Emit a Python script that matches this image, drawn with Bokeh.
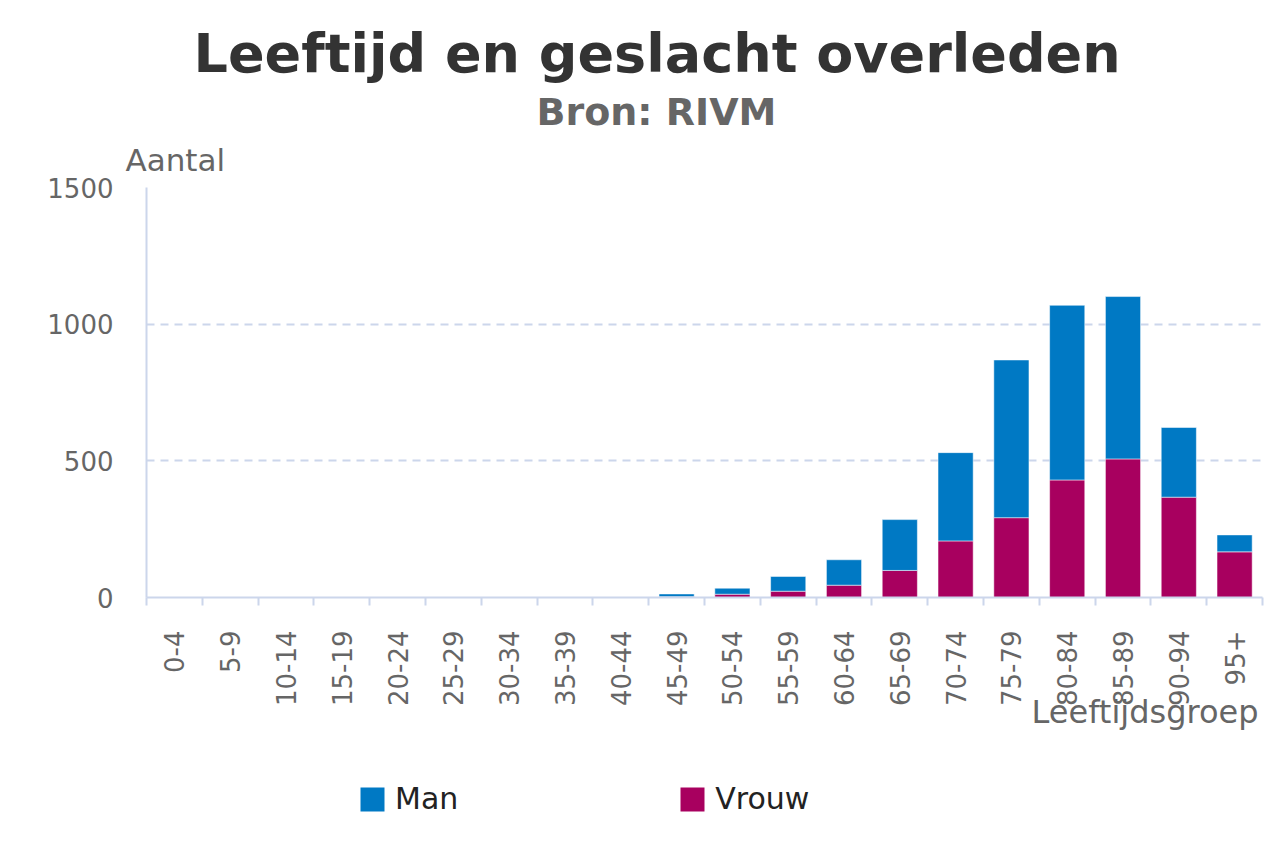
from math import pi
from bokeh.plotting import figure
from bokeh.layouts import column
from bokeh.models import (FactorRange, Range1d, LinearAxis, FixedTicker, Title,
                          Legend, LegendItem, ColumnDataSource)
from bokeh.embed import file_html
from bokeh.resources import INLINE

# ---- data ----
ages = ["0-4", "5-9", "10-14", "15-19", "20-24", "25-29", "30-34", "35-39",
        "40-44", "45-49", "50-54", "55-59", "60-64", "65-69", "70-74",
        "75-79", "80-84", "85-89", "90-94", "95+"]
man = [0, 0, 0, 0, 0, 0, 0, 0, 0, 10, 22, 54, 93, 186, 323, 577, 639, 594, 255, 62]
vrouw = [0, 0, 0, 0, 0, 0, 0, 0, 0, 3, 12, 23, 45, 99, 207, 292, 430, 507, 367, 167]
y_ticks = [0, 500, 1000, 1500]
series_names = ["Man", "Vrouw"]

title_text = "Leeftijd en geslacht overleden"
subtitle_text = "Bron: RIVM"
y_title = "Aantal"
x_title = "Leeftijdsgroep"

MAN_COLOR = "#0079c4"
VROUW_COLOR = "#a8005f"
GRID = "#ccd6eb"
FONT = "DejaVu Sans"

n = len(ages)
src = ColumnDataSource(dict(ages=ages, man=man, vrouw=vrouw))

p = figure(width=1268, height=770, output_backend="svg", toolbar_location=None,
           x_range=FactorRange(factors=ages, range_padding=0),
           y_range=Range1d(0, 1500), x_axis_location=None, title=None,
           min_border_left=146, min_border_right=6, min_border_top=187,
           min_border_bottom=173)
p.outline_line_color = None

r_vrouw, r_man = p.vbar_stack(["vrouw", "man"], x="ages", width=0.63, source=src,
                              color=[VROUW_COLOR, MAN_COLOR], line_color="white",
                              line_alpha=0.5, line_width=1)

# x axis: labels at category centres, ticks at category boundaries
centers = [i + 0.5 for i in range(n)]
edges = list(range(n + 1))
xax = LinearAxis(ticker=FixedTicker(ticks=centers, minor_ticks=edges),
                 major_label_overrides={c: a for c, a in zip(centers, ages)})
xax.major_tick_line_color = None
xax.major_tick_out = 0
xax.major_tick_in = 0
xax.minor_tick_out = 8
xax.minor_tick_in = 0
xax.minor_tick_line_color = GRID
xax.minor_tick_line_width = 2
xax.axis_line_color = GRID
xax.axis_line_width = 2
xax.major_label_orientation = pi / 2
xax.major_label_standoff = 25
xax.major_label_text_font = FONT
xax.major_label_text_font_size = "26px"
xax.major_label_text_color = "#666666"
p.add_layout(xax, "below")

yax = p.yaxis[0]
yax.ticker = FixedTicker(ticks=y_ticks)
yax.major_tick_line_color = None
yax.minor_tick_line_color = None
yax.major_tick_out = 0
yax.axis_line_color = GRID
yax.axis_line_width = 2
yax.major_label_standoff = 33
yax.major_label_text_font = FONT
yax.major_label_text_font_size = "26px"
yax.major_label_text_color = "#666666"

p.xgrid.visible = False
p.ygrid.grid_line_color = GRID
p.ygrid.grid_line_width = 2
p.ygrid.grid_line_dash = "8 6"

# titles, stacked outward from the plot frame
p.add_layout(Title(text=y_title, align="left", offset=-21, standoff=20,
                   text_font=FONT, text_font_size="31px", text_font_style="normal",
                   text_color="#666666"), "above")
p.add_layout(Title(text=subtitle_text, align="left", offset=390, standoff=-9,
                   text_font=FONT, text_font_size="38px", text_font_style="bold",
                   text_color="#666666"), "above")
p.add_layout(Title(text=title_text, align="left", offset=47, standoff=16,
                   text_font=FONT, text_font_size="54px", text_font_style="bold",
                   text_color="#333333"), "above")

p.add_layout(Title(text=x_title, align="right", offset=4, standoff=-43,
                   text_font=FONT, text_font_size="32px", text_font_style="normal",
                   text_color="#666666"), "below")

# legend strip underneath (same series, drawn outside its visible range)
p2 = figure(width=1268, height=81, output_backend="svg", toolbar_location=None,
            x_range=FactorRange(factors=ages), y_range=Range1d(-2, -1),
            x_axis_location=None, y_axis_location=None, min_border=0)
p2.outline_line_color = None
p2.grid.visible = False
lv, lm = p2.vbar_stack(["vrouw", "man"], x="ages", width=0.001, source=src,
                       color=[VROUW_COLOR, MAN_COLOR], line_color=None)
legend = Legend(items=[LegendItem(label=series_names[0], renderers=[lm]),
                       LegendItem(label=series_names[1], renderers=[lv])],
                location=(211, 35), orientation="horizontal",
                glyph_width=30, glyph_height=30, label_standoff=8, spacing=219,
                padding=0, margin=0, border_line_color=None,
                background_fill_alpha=0, label_text_font=FONT,
                label_text_font_size="30px", label_text_color="#222222")
p2.add_layout(legend, "center")

layout = column(p, p2, spacing=0)
open("out.html", "w").write(file_html(layout, INLINE))
